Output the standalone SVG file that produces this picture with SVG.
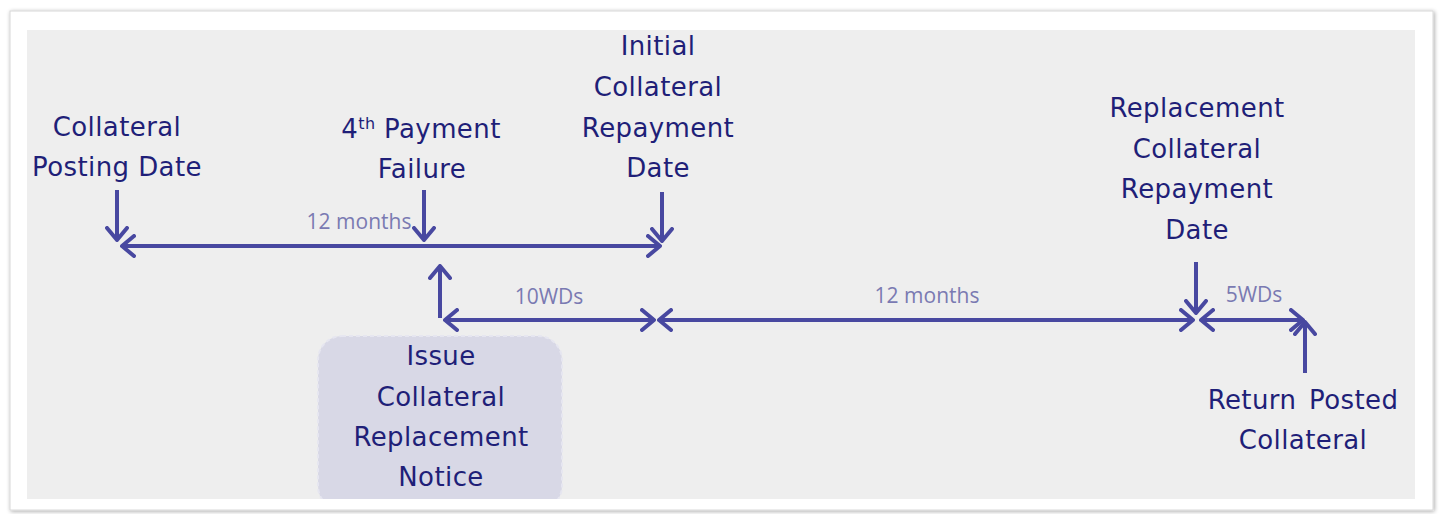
<svg xmlns="http://www.w3.org/2000/svg" width="1440" height="514" viewBox="0 0 1440 514">
<style>
.t{font-family:"DejaVu Sans",Verdana,sans-serif;font-size:26px;letter-spacing:0.4px;fill:#1f1f78;text-anchor:middle}
.l{font-family:"Open Sans","DejaVu Sans",sans-serif;font-size:21px;fill:#7a7ab2;text-anchor:middle}
.a{stroke:#4848a0;stroke-width:4;fill:none}
</style>
<defs>
<marker id="ah" markerUnits="userSpaceOnUse" viewBox="0 0 16 24" refX="14" refY="12" markerWidth="16" markerHeight="24" orient="auto-start-reverse">
<path d="M2,2 L14,12 L2,22" fill="none" stroke="#4848a0" stroke-width="4" stroke-linecap="round" stroke-linejoin="round"/>
</marker>
<filter id="sh" x="-2%" y="-5%" width="104%" height="110%">
<feGaussianBlur in="SourceAlpha" stdDeviation="2"/>
<feOffset dx="1" dy="1"/>
<feComponentTransfer><feFuncA type="linear" slope="0.35"/></feComponentTransfer>
<feMerge><feMergeNode/><feMergeNode in="SourceGraphic"/></feMerge>
</filter>
<clipPath id="pc"><rect x="27" y="30" width="1388" height="469"/></clipPath>
</defs>
<rect width="1440" height="514" fill="#ffffff"/>
<rect x="10" y="11" width="1423" height="499" fill="#ffffff" stroke="#d8d8d8" filter="url(#sh)"/>
<rect x="27" y="30" width="1388" height="469" fill="#eeeeee"/>

<g id="notice-box" clip-path="url(#pc)">
<rect x="318" y="336" width="244" height="174" rx="24" fill="#d8d8e6" stroke="#e6e6f0" stroke-width="2" stroke-dasharray="4 3"/>
<text class="t" x="441" y="365">Issue</text>
<text class="t" x="441" y="406">Collateral</text>
<text class="t" x="441" y="446">Replacement</text>
<text class="t" x="441" y="486">Notice</text>
</g>

<g id="posting-date">
<text class="t" x="117" y="136">Collateral</text>
<text class="t" x="117" y="176">Posting Date</text>
</g>
<g id="payment-failure">
<text class="t" x="421" y="138">4<tspan font-size="16" dy="-9">th</tspan><tspan dy="9"> Payment</tspan></text>
<text class="t" x="422" y="178">Failure</text>
</g>
<g id="initial-repayment">
<text class="t" x="658" y="55">Initial</text>
<text class="t" x="658" y="96">Collateral</text>
<text class="t" x="658" y="137">Repayment</text>
<text class="t" x="658" y="177">Date</text>
</g>
<g id="replacement-repayment">
<text class="t" x="1197" y="117">Replacement</text>
<text class="t" x="1197" y="158">Collateral</text>
<text class="t" x="1197" y="198">Repayment</text>
<text class="t" x="1197" y="239">Date</text>
</g>
<g id="return-posted">
<text class="t" x="1303" y="409">Return <tspan dx="4">Posted</tspan></text>
<text class="t" x="1303" y="449">Collateral</text>
</g>

<g id="connectors">
<line class="a" x1="117" y1="190" x2="117" y2="240" marker-end="url(#ah)"/>
<line class="a" x1="424" y1="190" x2="424" y2="240" marker-end="url(#ah)"/>
<line class="a" x1="662" y1="192" x2="662" y2="241" marker-end="url(#ah)"/>
<line class="a" x1="122" y1="246" x2="660" y2="246" marker-start="url(#ah)" marker-end="url(#ah)"/>
<text class="l" x="359" y="229">12 months</text>

<line class="a" x1="440" y1="318" x2="440" y2="266" marker-end="url(#ah)"/>
<line class="a" x1="445" y1="320" x2="654" y2="320" marker-start="url(#ah)" marker-end="url(#ah)"/>
<text class="l" x="549" y="304">10WDs</text>
<line class="a" x1="659" y1="320" x2="1193" y2="320" marker-start="url(#ah)" marker-end="url(#ah)"/>
<text class="l" x="927" y="303">12 months</text>
<line class="a" x1="1196" y1="262" x2="1196" y2="313" marker-end="url(#ah)"/>
<line class="a" x1="1201" y1="320" x2="1303" y2="320" marker-start="url(#ah)" marker-end="url(#ah)"/>
<text class="l" x="1254" y="302">5WDs</text>
<line class="a" x1="1305" y1="373" x2="1305" y2="322" marker-end="url(#ah)"/>
</g>
</svg>
